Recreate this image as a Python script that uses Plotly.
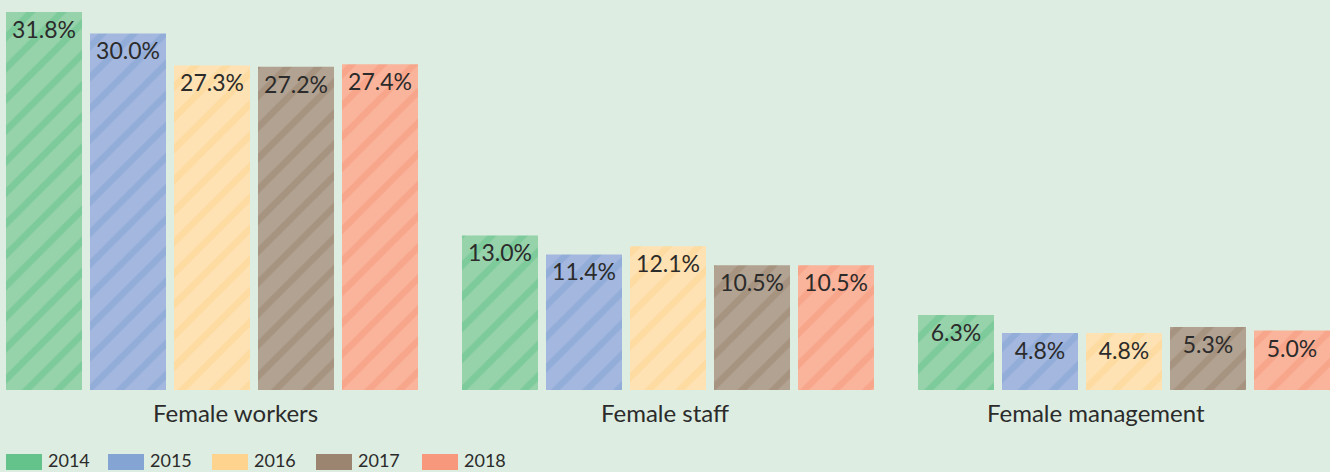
import plotly.graph_objects as go

categories = ["Female workers", "Female staff", "Female management"]
years = ["2014", "2015", "2016", "2017", "2018"]
values = {
    "2014": [31.8, 13.0, 6.3],
    "2015": [30.0, 11.4, 4.8],
    "2016": [27.3, 12.1, 4.8],
    "2017": [27.2, 10.5, 5.3],
    "2018": [27.4, 10.5, 5.0],
}

# strong tone (stripes / legend swatch) and pale tone (bar body) per year
strong = ["#63c38b", "#84a4d4", "#fdd38e", "#9c8570", "#f7977c"]
pale = ["#96d2aa", "#a3b7df", "#fee2b3", "#b1a291", "#f9b49b"]

BG = "#ddede1"
TXT = "#2b2b2b"
FONT = "Lato, 'Open Sans', sans-serif"

fig = go.Figure()
for i, y in enumerate(years):
    fig.add_trace(go.Bar(
        x=list(range(len(categories))),
        y=values[y],
        name=y,
        text=[f"{v:.1f}%" for v in values[y]],
        textposition="inside",
        insidetextanchor="end",
        textangle=0,
        constraintext="none",
        textfont=dict(family=FONT, size=23, color=TXT),
        marker=dict(
            color=pale[i],
            line=dict(width=0),
            pattern=dict(shape="/", fgcolor=strong[i], bgcolor=pale[i],
                         size=22, solidity=0.3, fillmode="overlay"),
        ),
        showlegend=False,
        hoverinfo="skip",
    ))

# category names under each group
label_shift = [23, -3, -28]
for j, c in enumerate(categories):
    fig.add_annotation(x=j, y=0, xref="x", yref="y", text=c, showarrow=False,
                       yanchor="top", yshift=-6, xshift=label_shift[j],
                       font=dict(family=FONT, size=24, color=TXT))

# legend row along the bottom
W, H = 1330, 472
PLOT_H = 390 - 12
leg_x = [6, 108, 212, 316, 422]
for i, y in enumerate(years):
    x0 = leg_x[i]
    fig.add_shape(type="rect", xref="paper", yref="paper",
                  x0=x0 / W, x1=(x0 + 36) / W,
                  y0=-(470 - 390) / PLOT_H, y1=-(454 - 390) / PLOT_H,
                  fillcolor=strong[i], line=dict(width=0))
    fig.add_annotation(xref="paper", yref="paper", x=(x0 + 41) / W,
                       y=-(460 - 390) / PLOT_H, text=y, showarrow=False,
                       xanchor="left", yanchor="middle", borderpad=0,
                       font=dict(family=FONT, size=18, color=TXT))

fig.update_layout(
    width=W, height=H,
    margin=dict(l=0, r=0, t=12, b=82),
    paper_bgcolor=BG, plot_bgcolor=BG,
    barmode="group",
    bargap=1 - 420 / 456,
    bargroupgap=8 / 84,
    xaxis=dict(range=[-212 / 456, (1330 - 212) / 456], showticklabels=False,
               showgrid=False, zeroline=False, showline=False, ticks=""),
    yaxis=dict(range=[0, 31.8], visible=False, showgrid=False, zeroline=False),
)

fig.write_html("out.html")
